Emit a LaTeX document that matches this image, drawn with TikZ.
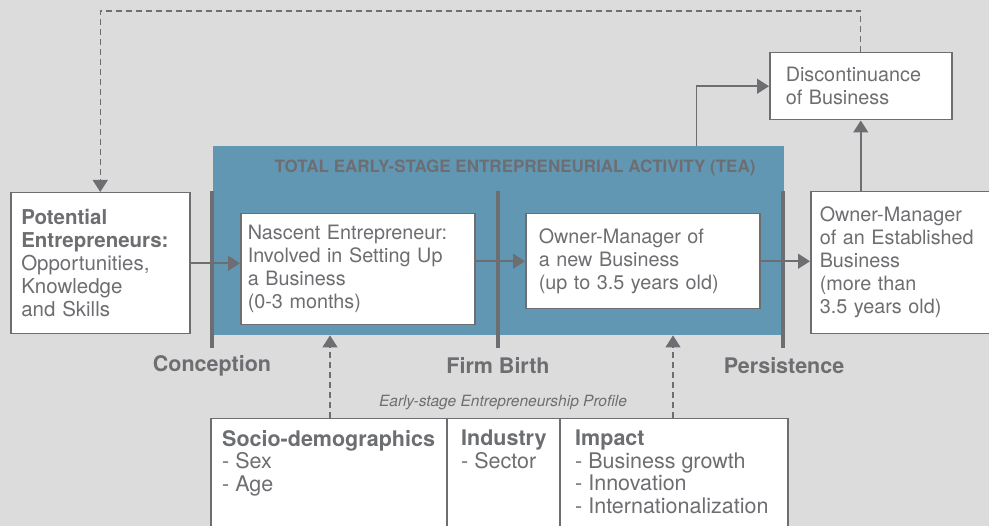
\documentclass[tikz,border=0pt]{standalone}
\usepackage{fontspec}
\setmainfont{TeX Gyre Heros}
\usetikzlibrary{arrows.meta,positioning}

\definecolor{paper}{HTML}{DCDCDC}
\definecolor{teablue}{HTML}{6297B4}
\definecolor{ink}{HTML}{6D6E71}

\tikzset{
  stagebox/.style={draw=ink,line width=1.5pt,fill=white,text=ink,align=left,
    inner xsep=11pt,anchor=north west,font=\fontsize{19.8}{23}\selectfont},
  phase/.style={draw=ink,line width=4pt},
  phaselabel/.style={text=ink,font=\bfseries\fontsize{21.5}{24}\selectfont},
  flow/.style={->,draw=ink,line width=1.5pt},
  feedback/.style={flow,line width=1.2pt,dash pattern=on 6pt off 4pt},
  profcol/.style={text=ink,align=left,anchor=north west,inner sep=0pt,
    font=\fontsize{21.5}{22.5}\selectfont},
}

\begin{document}
\begin{tikzpicture}[x=1pt,y=-1pt,>={Triangle[length=12pt,width=15pt]}]
    \useasboundingbox (0,0) rectangle (989,526);
    \fill[paper] (0,0) rectangle (989,526);

    \node[fill=teablue,minimum width=571pt,minimum height=189pt,anchor=north west,inner sep=0pt] (tea) at (213,146) {};
    \node[text=ink,font=\bfseries\fontsize{17}{19}\selectfont] (teahead) at (515,168) {TOTAL EARLY-STAGE ENTREPRENEURIAL ACTIVITY (TEA)};

    \node[stagebox,minimum width=179pt,minimum height=141pt,text width=158pt,inner xsep=10pt,font=\fontsize{20.5}{23}\selectfont] (pot) at (10,192) {\textbf{Potential}\\\textbf{Entrepreneurs:}\\Opportunities,\\Knowledge\\and Skills};
    \node[stagebox,minimum width=234pt,minimum height=111pt,text width=220pt,inner xsep=7pt] (nasc) at (240,213) {Nascent Entrepreneur:\\Involved in Setting Up\\a Business\\(0-3 months)};
    \node[stagebox,minimum width=234pt,minimum height=95pt,text width=208pt,inner xsep=13pt] (omnew) at (525,213) {Owner-Manager of\\a new Business\\(up to 3.5 years old)};
    \node[stagebox,minimum width=186pt,minimum height=142pt,text width=168pt,inner xsep=9pt] (est) at (810,191) {Owner-Manager\\of an Established\\Business\\(more than\\3.5 years old)};
    \node[stagebox,minimum width=179pt,minimum height=67pt,text width=150pt,inner xsep=16pt] (disc) at (769,52) {Discontinuance\\of Business};

    \draw[phase] (212,191) -- (212,348);
    \draw[phase] (498,191) -- (498,348);
    \draw[phase] (783,191) -- (783,348);
    \node[phaselabel] (concep) at (212,366) {Conception};
    \node[phaselabel] (birth)  at (498,366) {Firm Birth};
    \node[phaselabel] (persist) at (784,366) {Persistence};

    \draw[flow] (pot.east) -- (pot.east -| nasc.west);
    \draw[flow] (nasc.east |- omnew.west) -- (omnew.west);
    \draw[flow] (omnew.east) -- (omnew.east -| est.west);
    \draw[flow] ([xshift=-88pt]tea.north east) |- (disc.west);
    \draw[flow] (disc.south |- est.north) -- (disc.south);
    \draw[feedback] (disc.north) -- ++(0,-41) -| (pot.north);

    \node[draw=ink,line width=1.5pt,fill=white,minimum width=577pt,minimum height=120pt,anchor=north west,inner sep=0pt] (prof) at (210,418) {};
    \coordinate (div1) at (447,418);
    \coordinate (div2) at (560,418);
    \draw[ink,line width=1.5pt] (div1) -- (div1 |- prof.south);
    \draw[ink,line width=1.5pt] (div2) -- (div2 |- prof.south);
    \node[text=ink,font=\itshape\fontsize{15.5}{17}\selectfont] (profhead) at (503,403) {Early-stage Entrepreneurship Profile};
    \node[profcol] (socio)  at (222,430) {\textbf{Socio-demographics}\\- Sex\\- Age};
    \node[profcol] (indus)  at (461,430) {\textbf{Industry}\\- Sector};
    \node[profcol] (impact) at (575,430) {\textbf{Impact}\\- Business growth\\- Innovation\\- Internationalization};

    \coordinate (link1) at (330,418);
    \coordinate (link2) at (673,418);
    \draw[feedback] (link1) -- (link1 |- tea.south);
    \draw[feedback] (link2) -- (link2 |- tea.south);
\end{tikzpicture}
\end{document}
